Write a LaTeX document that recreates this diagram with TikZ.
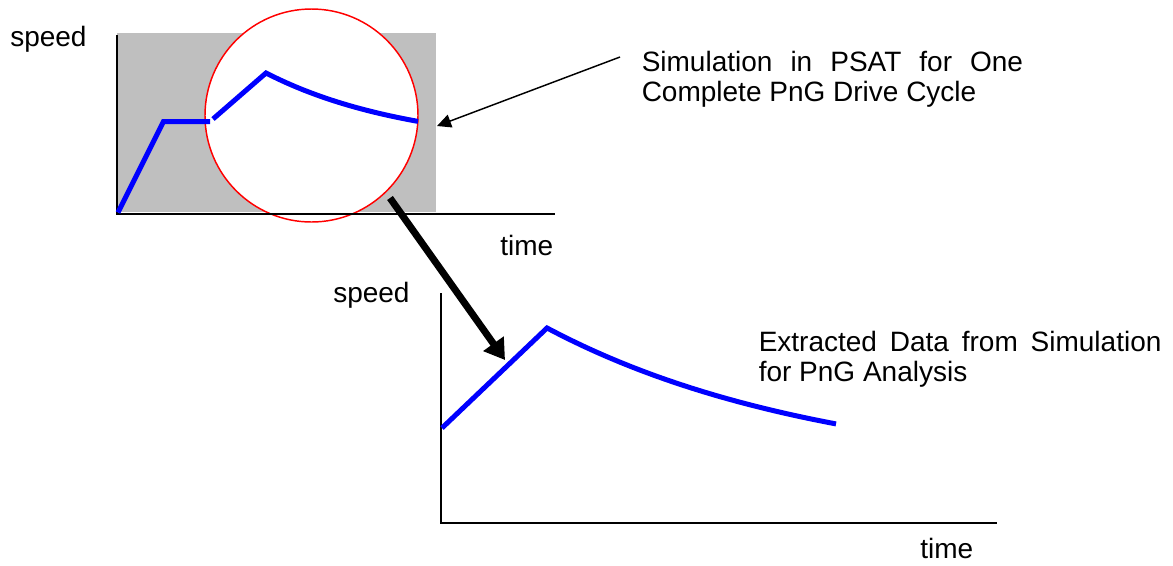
\documentclass[tikz,border=0pt]{standalone}
\usepackage{fontspec}
\setmainfont{Liberation Sans}
\usetikzlibrary{arrows.meta}

\begin{document}
\begin{tikzpicture}[x=0.75pt,y=-0.75pt,
    lbl/.style={inner sep=0pt,anchor=base west,font=\fontsize{21}{22.5}\selectfont},
    note/.style={lbl,text width=#1,align=justify},
    axis/.style={line width=1.1pt},
    speedline/.style={blue,line width=3.75pt}]
    \useasboundingbox(0,0)rectangle(1173,565);

    % full drive cycle
    \fill[black!25](117,33)rectangle(436,212);
    \filldraw[fill=white,draw=red,line width=1.1pt](311.5,115.5)circle(106.5);
    \draw[axis](117,35)--(117,214)--(555,214);
    \draw[speedline](118,212.5)--(163.5,121.5)--(210,121.5);
    \draw[speedline](213,119)--(266,73)
        --plot[domain=266:418](\x,{73+74.5*(1-exp(-(\x-266)/145))});
    \node[lbl](speed1) at (10,46.7){speed};
    \node[lbl](time1) at (500,255){time};

    % extracted part
    \draw[axis](441,293)--(441,523)--(997,523);
    \draw[speedline](442,428)--(547,328)
        --plot[domain=547:836](\x,{328+149*(1-exp(-(\x-547)/280))});
    \node[lbl](speed2) at (333,302){speed};
    \node[lbl](time2) at (920,558){time};

    % labels and arrows
    \node[note=286pt](simtext) at (641.5,71){Simulation in PSAT for One Complete PnG Drive Cycle};
    \node[note=302pt](extext) at (758.5,351.7){Extracted Data from Simulation for PnG Analysis};

    \coordinate(simtail) at (620,57);
    \coordinate(simtip) at (437,126);
    \draw[-{Triangle[length=10.5pt,width=10pt]},line width=1.1pt](simtail)--(simtip);

    \coordinate(zoomtail) at (390,198);
    \coordinate(zoomtip) at (505,360);
    \draw[-{Triangle[length=15pt,width=18pt]},line width=5.25pt](zoomtail)--(zoomtip);
\end{tikzpicture}
\end{document}
